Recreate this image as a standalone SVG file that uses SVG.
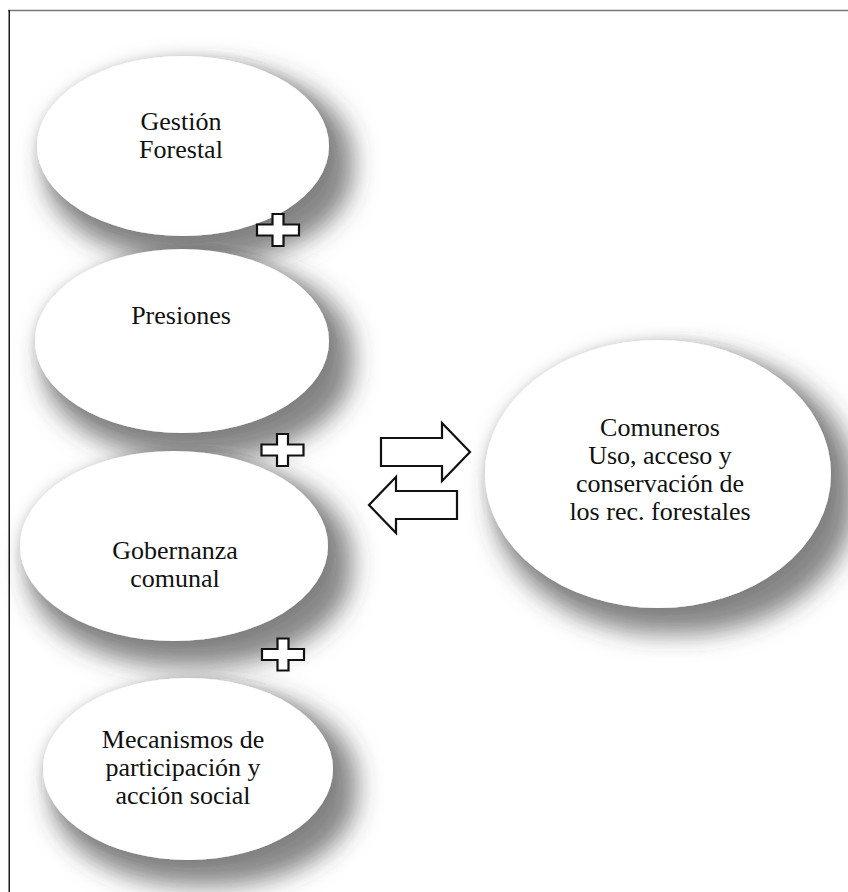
<svg xmlns="http://www.w3.org/2000/svg" width="848" height="892" viewBox="0 0 848 892">
  <style>
    .bubble { fill: #ffffff; filter: url(#drop); }
    .label { font-size: 26px; fill: #111111; text-anchor: middle; }
    .sign { fill: #ffffff; stroke: #111111; stroke-width: 2.2; stroke-linejoin: miter; }
    .frame-top { stroke: #767676; stroke-width: 1.5; }
    .frame-left { stroke: #1a1a1a; stroke-width: 1.5; }
  </style>
  <defs>
    <!-- soft drop shadow cast down and to the right -->
    <filter id="drop" x="-30%" y="-30%" width="170%" height="170%">
      <feMorphology in="SourceAlpha" operator="dilate" radius="8" result="grown"/>
      <feGaussianBlur in="grown" stdDeviation="12" result="blur"/>
      <feOffset in="blur" dx="16" dy="18" result="off"/>
      <feFlood flood-color="#3c3c3c" flood-opacity="0.62"/>
      <feComposite in2="off" operator="in" result="shade"/>
      <feGaussianBlur in="SourceAlpha" stdDeviation="4" result="halo0"/>
      <feFlood flood-color="#000" flood-opacity="0.07"/>
      <feComposite in2="halo0" operator="in" result="halo"/>
      <feMerge>
        <feMergeNode in="shade"/>
        <feMergeNode in="halo"/>
        <feMergeNode in="SourceGraphic"/>
      </feMerge>
    </filter>
    <path id="plus" d="M -5.5 -16 H 5.5 V -5.5 H 21 V 5.5 H 5.5 V 16 H -5.5 V 5.5 H -21 V -5.5 H -5.5 Z"/>
  </defs>

  <!-- page frame -->
  <line class="frame-top" x1="8" y1="10.5" x2="848" y2="10.5"/>
  <line class="frame-left" x1="9.25" y1="10" x2="9.25" y2="892"/>

  <g font-family="'Liberation Serif', 'Times New Roman', 'DejaVu Serif', serif">
    <g id="gestion-forestal">
      <ellipse class="bubble" cx="183" cy="146" rx="146" ry="90"/>
      <text class="label" x="181" y="130">Gestión</text>
      <text class="label" x="181" y="158">Forestal</text>
    </g>

    <g id="presiones">
      <ellipse class="bubble" cx="182" cy="341" rx="147" ry="92"/>
      <text class="label" x="181" y="324">Presiones</text>
    </g>

    <g id="gobernanza-comunal">
      <ellipse class="bubble" cx="174" cy="546" rx="154" ry="95"/>
      <text class="label" x="175" y="559">Gobernanza</text>
      <text class="label" x="175" y="587">comunal</text>
    </g>

    <g id="mecanismos">
      <ellipse class="bubble" cx="188" cy="769" rx="145" ry="91"/>
      <text class="label" x="183" y="748">Mecanismos de</text>
      <text class="label" x="183" y="776">participación y</text>
      <text class="label" x="183" y="804">acción social</text>
    </g>

    <g id="comuneros">
      <ellipse class="bubble" cx="658" cy="474" rx="173" ry="134"/>
      <text class="label" x="660" y="436">Comuneros</text>
      <text class="label" x="660" y="464">Uso, acceso y</text>
      <text class="label" x="660" y="492">conservación de</text>
      <text class="label" x="660" y="520">los rec. forestales</text>
    </g>
  </g>

  <g id="connectors">
    <use href="#plus" class="sign" transform="translate(278 230)"/>
    <use href="#plus" class="sign" transform="translate(282.5 450)"/>
    <use href="#plus" class="sign" transform="translate(283 654.5)"/>
    <polygon class="sign" points="381,438 442,438 442,423 470,452 442,481 442,466 381,466"/>
    <polygon class="sign" points="457,491 396,491 396,477 369,505 396,533 396,519 457,519"/>
  </g>
</svg>
